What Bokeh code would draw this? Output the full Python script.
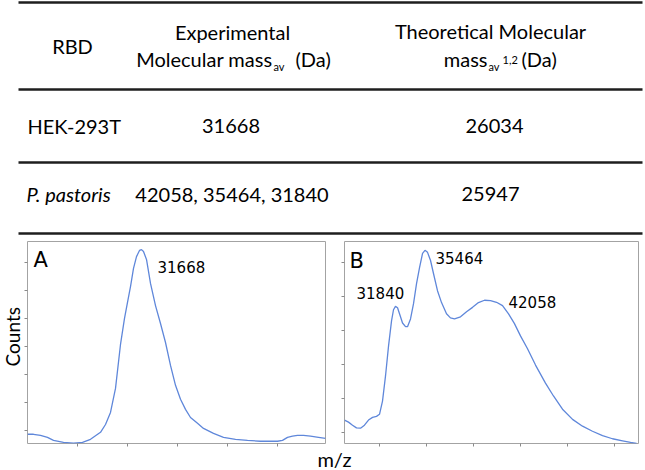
import math
from bokeh.plotting import figure
from bokeh.layouts import column, row
from bokeh.models import Range1d, FixedTicker, CustomJSTickFormatter
from bokeh.core.properties import value
from bokeh.embed import file_html
from bokeh.resources import INLINE

# ---------------- data ----------------
# table
col_headers_1 = ["RBD", "Experimental", "Theoretical Molecular"]
row_labels = ["HEK-293T", "P. pastoris"]
experimental_mass = ["31668", "42058, 35464, 31840"]
theoretical_mass = ["26034", "25947"]

# panel A : HEK-293T spectrum (mass in Da, relative counts)
a_mass = [20000, 20600, 21300, 22000, 22600, 23600, 24600, 25500, 26300, 27300,
          27800, 28300, 28800, 29300, 29700, 30000, 30300, 30600, 30900, 31200,
          31400, 31600, 31900, 32300, 32800, 33300, 33800, 34300, 34800, 35300,
          35800, 36300, 37000, 37600, 38600, 39600, 40800, 42000, 43300, 45000,
          45500, 46000, 46500, 47000, 47600, 48300, 49100, 49800]
a_counts = [-0.14, -0.14, -0.18, -0.25, -0.36, -0.43, -0.46, -0.43, -0.32, -0.07,
            0.21, 0.64, 1.50, 3.07, 4.00, 4.57, 5.14, 5.79, 6.21, 6.43,
            6.46, 6.39, 6.11, 5.25, 4.46, 3.82, 3.14, 2.32, 1.61, 1.11,
            0.75, 0.46, 0.25, 0.07, -0.11, -0.25, -0.32, -0.36, -0.39, -0.39,
            -0.36, -0.25, -0.21, -0.18, -0.18, -0.21, -0.25, -0.29]
a_peak_labels = ["31668"]

# panel B : P. pastoris spectrum
b_mass = [26280, 26700, 27130, 27550, 27980, 28400, 28830, 29260, 29680, 30000,
          30320, 30640, 30960, 31280, 31490, 31700, 31920, 32130, 32450, 32770,
          32980, 33300, 33620, 33940, 34260, 34580, 34840, 35110, 35430, 35750,
          36170, 36600, 37130, 37550, 37980, 38620, 39260, 39900, 40530, 41170,
          41810, 42450, 43090, 43730, 44360, 45000, 45750, 46600, 47660, 48510,
          49470, 50540, 51600, 52660, 53730, 54790, 55860, 56710, 57350]
b_counts = [0.36, 0.30, 0.21, 0.13, 0.12, 0.21, 0.36, 0.44, 0.47, 0.53,
            0.92, 1.66, 2.54, 3.28, 3.61, 3.71, 3.67, 3.49, 3.22, 3.11,
            3.11, 3.34, 3.79, 4.38, 4.85, 5.27, 5.36, 5.30, 5.06, 4.67,
            4.17, 3.82, 3.49, 3.37, 3.34, 3.40, 3.55, 3.68, 3.82, 3.89,
            3.88, 3.83, 3.73, 3.49, 3.20, 2.84, 2.46, 1.98, 1.45, 1.07,
            0.68, 0.38, 0.18, 0.03, -0.10, -0.19, -0.25, -0.30, -0.33]
b_peak_labels = ["31840", "35464", "42058"]

a_xticks = [25000, 30000, 35000, 40000, 45000]
a_yticks = [0, 1, 2, 3, 4, 5, 6]
b_xticks = [30000, 35000, 40000, 45000, 50000, 55000]
b_yticks = [0, 1, 2, 3, 4, 5]

# ---------------- styles ----------------
TFONT = value("Lato")
PFONT = value("DejaVu Sans")
TSIZE = 20
SUBSIZE = 11
TEXT_COLOR = "#000000"
LINE_COLOR = "#5f87da"
BOX_COLOR = "#a3a3a3"
TICK_COLOR = "#8a8a8a"
SHIFT = 0.38   # baseline correction (fraction of font size)

W = 645
HT = 237     # table height
HP = 210     # panel row height
HM = 23      # m/z row height
CW = 24      # width of the y-label strip


def blank(width, height):
    return figure(width=width, height=height, x_range=Range1d(0, width), y_range=Range1d(0, height),
                  x_axis_type=None, y_axis_type=None, toolbar_location=None, output_backend="svg",
                  min_border_left=0, min_border_right=0, min_border_top=0, min_border_bottom=0,
                  outline_line_color=None)


# ---------------- table ----------------
t = blank(W, HT)
def Y(v):
    return HT - v

rule_y = [2, 89, 162, 233]
t.segment(x0=[18] * 4, x1=[642] * 4, y0=[Y(v) for v in rule_y], y1=[Y(v) for v in rule_y],
          line_color="#1e1e1e", line_width=2.5)

def ttext(x, base, s, align="center", size=TSIZE, style="normal"):
    t.text(x=[x], y=[Y(base - SHIFT * size)], text=[s], text_font=TFONT,
           text_font_size=f"{size}px", text_align=align, text_baseline="alphabetic",
           text_color=TEXT_COLOR, text_font_style=style)

# header
ttext(72, 53.3, col_headers_1[0])
ttext(232, 38.7, col_headers_1[1])
ttext(272, 66, "Molecular mass", align="right")
ttext(273, 70, "av", align="left", size=SUBSIZE)
ttext(295, 66, "(Da)", align="left")
ttext(490, 38.5, col_headers_1[2])
ttext(487, 66, "mass", align="right")
ttext(488, 70, "av", align="left", size=SUBSIZE)
ttext(502, 64, "1,2", align="left", size=SUBSIZE)
ttext(521, 66, "(Da)", align="left")

# rows
row_base = [132.7, 201.5]
label_x = [27, 26]
exp_x = [230.5, 231.5]
theo_x = [494, 490]
for i in range(2):
    ttext(label_x[i], row_base[i], row_labels[i], align="left",
          style="normal" if i == 0 else "italic")
    ttext(exp_x[i], row_base[i], experimental_mass[i])
    ttext(theo_x[i], row_base[i], theoretical_mass[i])


# ---------------- panels ----------------
def panel(width, xr, yr, xticks, yticks, left, right):
    f = figure(width=width, height=HP, x_range=Range1d(*xr), y_range=Range1d(*yr),
               toolbar_location=None, output_backend="svg",
               min_border_left=left, min_border_right=right, min_border_top=4, min_border_bottom=4,
               outline_line_color=BOX_COLOR, outline_line_width=1)
    f.grid.visible = False
    f.xaxis.ticker = FixedTicker(ticks=xticks)
    f.yaxis.ticker = FixedTicker(ticks=yticks)
    for ax in (f.xaxis, f.yaxis):
        ax.formatter = CustomJSTickFormatter(code="return ''")
        ax.major_label_text_font_size = "0px"
        ax.major_label_standoff = 0
        ax.major_tick_in = 0
        ax.major_tick_out = 3
        ax.major_tick_line_color = TICK_COLOR
        ax.minor_tick_line_color = None
        ax.axis_line_color = None
    return f

def ptext(f, xs, ys, labels, size, px_per_unit):
    f.text(x=xs, y=[v + SHIFT * size / px_per_unit for v in ys], text=labels, text_font=PFONT,
           text_font_size=f"{size}px", text_baseline="alphabetic", text_align="left",
           text_color=TEXT_COLOR)

A_PX = 28.0    # pixels per count unit, panel A
B_PX = 33.8    # pixels per count unit, panel B

fa = panel(27 - CW + 298 + 9, (20000, 49800), (-0.47, 6.75), a_xticks, a_yticks, 27 - CW, 9)
fa.line(a_mass, a_counts, line_color=LINE_COLOR, line_width=1.3)
ptext(fa, [20600], [5.79], ["A"], 21, A_PX)
ptext(fa, [33000], [5.64], a_peak_labels, 15, A_PX)

fb = panel(311, (26276, 57557), (-0.33, 5.62), b_xticks, b_yticks, 10, 7)
fb.line(b_mass, b_counts, line_color=LINE_COLOR, line_width=1.3)
ptext(fb, [26808], [4.82], ["B"], 21, B_PX)
ptext(fb, [27553, 35958, 43726], [3.93, 4.97, 3.67], b_peak_labels, 15, B_PX)

# y label (rotated; baseline sits on the right side of the glyphs)
cf = blank(CW, HP)
cf.text(x=[19.6 - SHIFT * 19], y=[HP - 99], text=["Counts"], text_font=TFONT, text_font_size="19px",
        text_align="center", text_baseline="alphabetic", angle=math.pi / 2, text_color=TEXT_COLOR)

# x label
mf = blank(W, HM)
mf.text(x=[334], y=[HM - (466 - 447) + SHIFT * 20], text=["m/z"], text_font=TFONT,
        text_font_size="20px", text_align="center", text_baseline="alphabetic", text_color=TEXT_COLOR)

layout = column(t, row(cf, fa, fb, spacing=0), mf, spacing=0)

open("out.html", "w").write(file_html(layout, INLINE))
